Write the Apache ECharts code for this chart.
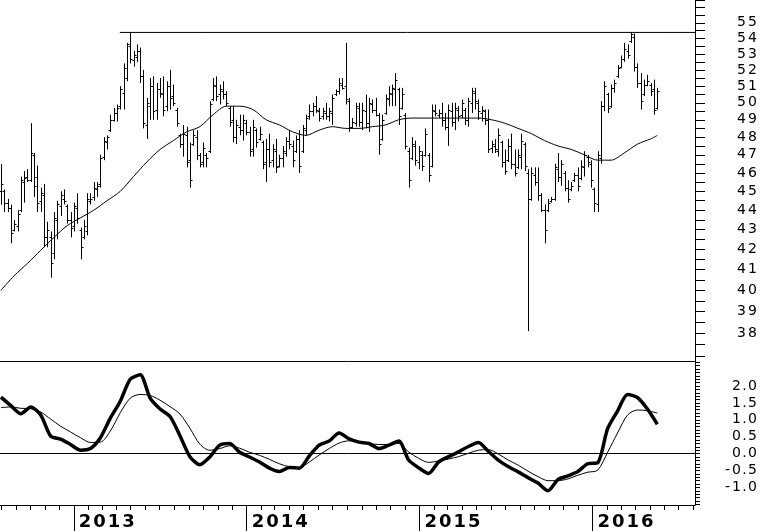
<!DOCTYPE html>
<html>
<head>
<meta charset="utf-8">
<script src="https://cdn.jsdelivr.net/npm/echarts@6/dist/echarts.min.js"></script>
<style>
  html, body { margin: 0; padding: 0; background: #fff; }
  #chart { width: 760px; height: 531px; }
</style>
</head>
<body>
<div id="chart"></div>
<script>
// weekly bars, first one in the week of 31 Jul 2012
const firstWeek = Date.UTC(2012, 6, 31);

const highs = [
  46.5,45.1,44.6,44.3,43.5,44.0,45.8,46.1,46.2,48.8,
  47.1,46.4,45.2,45.4,43.4,42.9,43.9,44.5,45.0,45.1,
  44.3,43.9,44.4,44.9,43.1,43.5,44.9,44.9,45.5,45.5,
  47.0,48.0,48.1,49.3,49.7,49.9,51.0,52.4,53.7,54.4,
  53.2,53.6,53.4,52.0,50.3,51.5,51.6,51.2,51.5,51.6,
  51.3,52.0,51.1,49.7,48.2,48.7,48.6,47.7,48.4,48.4,
  47.1,47.7,47.1,50.1,51.5,51.6,51.1,51.3,50.7,49.8,
  49.8,49.0,49.3,49.3,49.0,48.6,49.0,48.5,48.6,47.8,
  47.9,48.2,47.6,47.9,47.0,47.5,48.0,48.4,47.8,48.1,
  48.4,48.7,49.3,49.9,50.0,50.4,49.7,49.7,50.0,49.7,
  50.5,50.8,51.5,51.5,53.7,50.3,49.1,50.0,50.0,50.0,
  50.5,50.3,50.2,50.3,49.4,49.3,50.5,51.0,51.1,51.8,
  50.9,50.9,49.4,47.4,48.0,47.8,47.5,47.2,48.5,47.1,
  49.9,49.9,49.6,50.0,49.4,49.9,50.0,50.0,49.8,50.2,
  49.7,50.3,50.9,50.9,50.2,49.8,49.6,49.6,47.8,47.9,
  48.5,47.8,47.3,47.9,48.2,47.3,47.3,48.2,47.7,46.2,
  46.3,46.3,46.3,44.9,44.3,44.6,44.7,46.5,47.1,46.7,
  46.1,45.6,45.5,46.0,46.3,46.7,47.2,47.0,46.7,45.2,
  47.2,50.1,51.3,50.6,51.1,51.4,52.3,52.9,53.7,53.6,
  54.4,54.3,52.4,51.8,51.4,51.7,51.2,51.4,50.9
];
const lows = [
  44.3,43.9,43.9,42.3,42.9,42.9,43.9,44.4,45.5,45.5,
  44.7,43.9,43.9,42.1,42.1,40.6,41.5,42.5,43.7,44.3,
  43.3,42.6,42.9,43.3,41.5,42.5,42.7,44.3,44.5,44.7,
  45.2,46.7,47.3,48.3,48.9,48.9,49.6,49.6,51.3,52.4,
  52.2,52.5,51.2,48.5,47.9,49.0,49.0,49.0,50.3,49.2,
  49.5,49.6,49.8,48.6,47.4,46.9,46.3,45.2,47.5,46.7,
  46.3,46.3,46.3,47.1,50.1,50.1,49.9,50.2,49.8,48.6,
  47.7,47.6,48.1,47.8,48.1,46.9,46.9,47.4,47.8,46.2,
  45.5,46.3,46.3,46.0,46.3,46.3,46.9,47.3,46.3,47.1,
  46.0,47.1,48.1,49.0,49.2,49.4,48.9,49.0,49.0,48.9,
  48.7,50.4,50.5,50.8,49.9,48.3,48.5,48.6,48.6,48.4,
  48.5,48.3,49.4,49.2,47.0,47.8,49.3,49.8,49.8,49.8,
  48.7,49.6,47.3,45.2,46.7,46.4,46.2,46.1,46.9,45.5,
  46.3,49.2,49.1,48.6,48.4,47.5,48.6,48.4,48.9,49.1,
  48.7,48.6,49.4,49.6,49.0,48.9,48.7,47.1,47.1,47.1,
  46.9,46.3,45.9,46.6,46.2,45.8,46.2,46.2,46.1,38.1,
  44.5,45.3,44.5,43.9,42.3,43.9,44.4,44.5,45.5,45.3,
  45.0,44.4,45.0,45.5,45.0,45.6,45.8,46.3,45.2,43.9,
  43.9,46.5,49.5,49.4,49.7,50.6,51.5,52.1,52.5,52.7,
  53.7,51.9,50.9,49.6,50.4,51.0,50.4,49.3,49.6
];
const opens = [
  45.0,45.0,44.4,44.1,43.0,43.2,44.0,45.5,45.8,45.6,
  47.0,45.8,44.5,44.8,42.6,42.6,41.8,43.5,44.2,44.6,
  44.2,43.5,43.2,44.1,43.0,42.6,42.9,44.5,44.7,45.1,
  45.4,46.9,47.7,48.4,49.0,49.4,49.8,50.6,51.5,53.5,
  52.6,52.8,53.2,51.6,48.7,49.8,51.0,49.6,50.8,50.5,
  49.8,51.0,50.4,49.6,48.1,47.6,48.1,46.7,47.6,48.0,
  47.0,46.6,47.0,47.2,50.2,51.0,50.5,50.7,50.5,49.7,
  49.0,48.0,48.6,48.4,48.8,48.3,47.3,48.4,47.9,47.7,
  46.6,47.3,46.7,47.2,46.4,46.8,47.1,47.8,47.5,47.2,
  47.9,47.2,48.4,49.2,49.5,49.8,49.5,49.2,49.4,49.2,
  49.4,50.5,50.7,51.1,51.0,50.1,48.6,48.8,49.7,48.9,
  49.5,48.8,49.9,49.6,49.3,47.9,49.4,50.2,50.5,50.8,
  50.8,49.7,49.3,47.2,46.8,47.5,46.6,47.0,47.0,47.0,
  46.4,49.5,49.3,49.4,49.0,48.6,49.5,48.9,49.6,49.3,
  49.6,49.0,50.0,50.6,50.0,49.4,49.5,49.0,47.4,47.5,
  47.2,47.7,46.6,46.7,47.5,46.5,46.3,46.9,47.6,46.0,
  44.6,45.9,45.5,44.8,44.0,44.0,44.5,44.6,46.2,45.8,
  46.0,45.2,45.1,45.6,45.9,45.7,46.3,46.9,46.5,45.1,
  44.3,46.8,49.8,50.5,49.8,50.9,51.6,52.2,52.7,53.2,
  53.8,54.1,52.2,51.2,50.5,51.1,51.1,50.8,49.7
];
const closes = [
  45.4,44.4,44.1,42.8,43.3,43.8,45.6,45.7,45.6,47.1,
  45.3,44.4,44.9,42.6,43.0,41.3,43.6,44.3,44.8,44.5,
  43.5,43.1,44.2,43.6,42.1,43.2,44.6,44.6,45.2,45.3,
  46.8,47.8,48.0,49.0,49.4,49.7,50.8,52.1,53.6,52.7,
  52.9,53.2,51.6,48.8,50.0,51.0,49.5,50.8,50.6,49.6,
  51.0,50.3,50.0,48.8,47.6,48.2,46.6,45.6,48.1,47.0,
  46.5,47.4,46.8,49.9,51.1,50.4,50.8,50.5,50.0,48.9,
  48.0,48.7,48.4,49.0,48.3,47.2,48.6,47.7,48.2,46.5,
  47.3,46.6,47.3,46.3,46.8,47.2,47.8,47.6,46.7,47.9,
  46.4,48.5,49.1,49.5,49.8,49.6,49.1,49.5,49.2,49.5,
  50.3,50.7,51.2,50.9,50.2,48.6,48.9,49.8,48.9,49.6,
  48.8,50.0,49.6,49.3,47.6,49.0,50.3,50.6,50.9,51.4,
  49.2,50.5,47.5,45.6,47.6,46.7,47.2,46.4,48.2,45.9,
  49.6,49.4,49.4,49.0,48.6,49.6,48.9,49.7,49.2,50.0,
  49.0,50.1,50.7,50.1,49.5,49.6,49.0,47.3,47.6,47.3,
  48.1,46.6,46.1,47.5,46.5,46.0,47.0,47.8,46.4,44.6,
  46.0,45.5,44.8,44.0,43.0,44.4,44.6,46.3,45.8,46.5,
  45.2,44.6,45.3,45.9,45.3,46.4,47.0,46.6,45.6,44.4,
  47.0,49.8,51.0,49.7,50.9,51.2,52.1,52.7,53.3,52.9,
  54.3,52.2,51.2,50.1,51.1,51.3,50.7,49.6,50.7
];

// moving average, read every 4th week
const avgWeeks = [0,4,8,12,16,20,24,28,32,36,40,44,48,52,56,60,64,68,72,76,80,84,88,92,96,
  100,104,108,112,116,120,124,128,132,136,140,144,148,152,156,160,164,168,172,176,180,184,188,192,196,198];
const avgValues = [40.0,40.7,41.3,41.95,42.6,43.2,43.6,44.0,44.5,45.0,45.8,46.6,47.3,47.8,48.3,48.6,
  49.3,49.8,49.8,49.6,49.0,48.7,48.3,48.1,48.4,48.6,48.5,48.5,48.6,48.7,49.0,49.1,49.1,49.1,49.1,
  49.1,49.1,49.0,48.8,48.5,48.2,47.8,47.5,47.3,47.0,46.7,46.7,47.1,47.6,47.9,48.1];

// oscillator, read every 3rd week
const oscStep = 3;
const oscFast = [1.67,1.42,1.18,1.38,1.14,0.52,0.43,0.27,0.10,0.15,0.47,1.05,1.55,2.20,2.33,1.64,1.32,
  1.10,0.53,-0.09,-0.33,-0.10,0.25,0.30,0.04,-0.10,-0.25,-0.43,-0.53,-0.41,-0.43,-0.07,0.25,0.37,0.61,
  0.44,0.34,0.30,0.15,0.25,0.37,-0.19,-0.42,-0.59,-0.25,-0.09,0.05,0.21,0.33,0.07,-0.19,-0.38,-0.54,
  -0.71,-0.87,-1.10,-0.77,-0.66,-0.53,-0.30,-0.27,0.74,1.26,1.75,1.66,1.32,0.87];
const oscSlow = [1.36,1.38,1.34,1.33,1.23,1.02,0.81,0.64,0.47,0.33,0.34,0.67,1.21,1.64,1.75,1.72,1.58,
  1.39,1.17,0.75,0.28,0.10,0.15,0.23,0.16,0.04,-0.05,-0.17,-0.30,-0.39,-0.41,-0.25,-0.04,0.15,0.31,
  0.38,0.35,0.30,0.27,0.27,0.30,0.05,-0.14,-0.26,-0.22,-0.16,-0.09,0.01,0.10,0.12,-0.01,-0.19,-0.34,
  -0.52,-0.68,-0.80,-0.80,-0.75,-0.64,-0.55,-0.49,0.04,0.61,1.14,1.29,1.27,1.20];

const priceLabels = [38,39,40,41,42,43,44,45,46,47,48,49,50,51,52,53,54,55];
const oscLabels = [-1.0,-0.5,0.0,0.5,1.0,1.5,2.0];
const yearLabels = [2013,2014,2015,2016];
const resistance = 54.37;
const resistanceFrom = Date.UTC(2013, 3, 8);

const DAY = 86400000;
const weekTime = i => firstWeek + i * 7 * DAY;
const xMin = Date.UTC(2013, 0, 1) - 156 * DAY;
const xMax = Date.UTC(2016, 0, 1) + 216.6 * DAY;

const monthTicks = [];
for (let y = 2012; y <= 2016; y++) {
  for (let m = 0; m < 12; m++) {
    const t = Date.UTC(y, m, 1);
    if (t >= xMin && t <= xMax) monthTicks.push(t);
  }
}
const yearTicks = yearLabels.map(y => Date.UTC(y, 0, 1));
const priceTicks = [];
for (let v = 37; v <= 56.5; v += 0.5) priceTicks.push(v);
const oscTicks = [];
for (let v = -15; v <= 27; v++) oscTicks.push(v / 10);

// spread characters so the labels get the wide look of the original font
const spread = (s, w) => String(s).split('').map(ch =>
  ch === '.' ? '{p|.}' : ch === '-' ? '{m|-}' : '{' + w + '|' + ch + '}').join('');
const smallFont = { fontSize: 14, fontFamily: 'DejaVu Sans', color: '#000' };
const smallRich = {
  d: Object.assign({ width: 11, align: 'center' }, smallFont),
  p: Object.assign({ width: 5, align: 'center' }, smallFont),
  m: Object.assign({ width: 7, align: 'center' }, smallFont)
};
const yearRich = {
  y: { width: 14.5, align: 'center', fontSize: 18, fontWeight: 'bold', fontFamily: 'DejaVu Sans', color: '#000' }
};

const barData = highs.map((h, i) => [weekTime(i), opens[i], h, lows[i], closes[i]]);
const avgData = avgWeeks.map((w, j) => [weekTime(w), avgValues[j]]);
const fastData = oscFast.map((v, k) => [weekTime(k * oscStep), v]);
const slowData = oscSlow.map((v, k) => [weekTime(k * oscStep), v]);

const black = { color: '#000', width: 1 };

const chart = echarts.init(document.getElementById('chart'));
chart.setOption({
  animation: false,
  backgroundColor: '#fff',
  grid: [
    { left: 0, top: 0, width: 696, height: 361 },
    { left: 0, top: 361, width: 696, height: 144 }
  ],
  xAxis: [
    {
      gridIndex: 0, type: 'value', position: 'bottom', min: xMin, max: xMax,
      axisLine: { show: true, onZero: false, lineStyle: black },
      axisTick: { show: false }, axisLabel: { show: false }, splitLine: { show: false }
    },
    {
      gridIndex: 1, type: 'value', position: 'bottom', min: xMin, max: xMax,
      axisLine: { show: true, onZero: false, lineStyle: black },
      axisTick: { show: true, customValues: monthTicks, length: 5, lineStyle: black },
      axisLabel: { show: false }, splitLine: { show: false }
    },
    {
      gridIndex: 1, type: 'value', position: 'bottom', offset: 0, min: xMin, max: xMax,
      axisLine: { show: false, onZero: false },
      axisTick: { show: true, customValues: yearTicks, length: 26, lineStyle: black },
      axisLabel: {
        show: true, customValues: yearTicks, align: 'left', margin: 8, padding: [0, 0, 0, 4],
        formatter: v => spread(new Date(v).getUTCFullYear(), 'y'), rich: yearRich
      },
      splitLine: { show: false }
    }
  ],
  yAxis: [
    {
      gridIndex: 0, type: 'log', position: 'right', min: 36.77, max: 56.51,
      axisLine: { show: true, lineStyle: black },
      axisTick: { show: true, customValues: priceTicks, length: 10, lineStyle: black },
      axisLabel: {
        show: true, customValues: priceLabels, align: 'right', margin: 63,
        formatter: v => spread(Math.round(v), 'd'), rich: smallRich
      },
      splitLine: { show: false }
    },
    {
      gridIndex: 1, type: 'value', position: 'right', min: -1.52, max: 2.74,
      axisLine: { show: true, lineStyle: black },
      axisTick: { show: true, customValues: oscTicks, length: 5, lineStyle: black },
      axisLabel: {
        show: true, customValues: oscLabels, align: 'right', margin: 63,
        formatter: v => spread(Number(v).toFixed(1), 'd'), rich: smallRich
      },
      splitLine: { show: false }
    }
  ],
  series: [
    {
      type: 'custom', xAxisIndex: 0, yAxisIndex: 0, data: barData,
      encode: { x: 0, y: [1, 2, 3, 4] },
      renderItem: (params, api) => {
        const t = api.value(0);
        const hi = api.coord([t, api.value(2)]);
        const lo = api.coord([t, api.value(3)]);
        const op = api.coord([t, api.value(1)]);
        const cl = api.coord([t, api.value(4)]);
        const x = Math.round(hi[0]) + 0.5;
        const yo = Math.round(op[1]) + 0.5;
        const yc = Math.round(cl[1]) + 0.5;
        const st = { stroke: '#000', lineWidth: 1 };
        return {
          type: 'group',
          children: [
            { type: 'line', shape: { x1: x, y1: hi[1], x2: x, y2: lo[1] }, style: st },
            { type: 'line', shape: { x1: x - 2, y1: yo, x2: x, y2: yo }, style: st },
            { type: 'line', shape: { x1: x, y1: yc, x2: x + 2, y2: yc }, style: st }
          ]
        };
      }
    },
    {
      type: 'line', xAxisIndex: 0, yAxisIndex: 0, data: avgData, smooth: 0.3,
      symbol: 'none', lineStyle: { color: '#000', width: 1 }
    },
    {
      type: 'line', xAxisIndex: 0, yAxisIndex: 0,
      data: [[resistanceFrom, resistance], [xMax, resistance]],
      symbol: 'none', lineStyle: { color: '#000', width: 1 }
    },
    {
      type: 'line', xAxisIndex: 1, yAxisIndex: 1, data: slowData, smooth: 0.3,
      symbol: 'none', lineStyle: { color: '#000', width: 1 }
    },
    {
      type: 'line', xAxisIndex: 1, yAxisIndex: 1, data: fastData, smooth: 0.25,
      symbol: 'none', lineStyle: { color: '#000', width: 3.5 },
      markLine: {
        silent: true, symbol: 'none', label: { show: false },
        lineStyle: { color: '#000', width: 1, type: 'solid' },
        data: [{ yAxis: 0 }]
      }
    }
  ]
});
</script>
</body>
</html>
